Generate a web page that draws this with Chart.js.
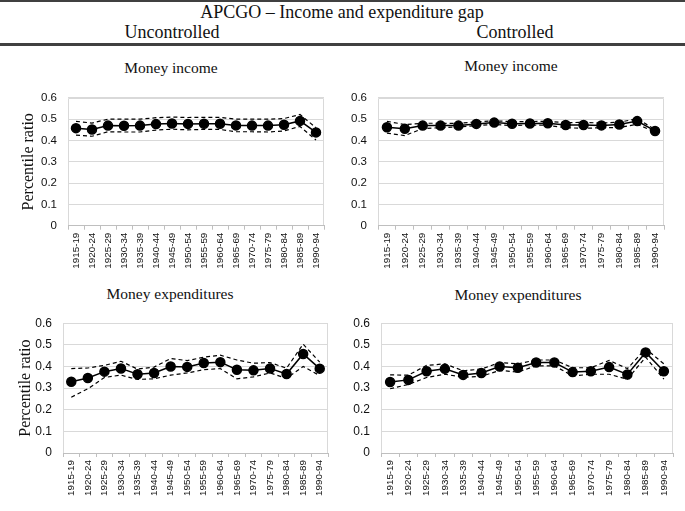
<!DOCTYPE html>
<html>
<head>
<meta charset="utf-8">
<script src="https://cdn.jsdelivr.net/npm/chart.js@4"></script>
<style>
  body { margin: 0; background: #fff; }
  #page { position: relative; width: 685px; height: 511px; overflow: hidden; background: #fff; }
  .txt { position: absolute; font-family: "Liberation Serif", "Times New Roman", serif; color: #111; white-space: nowrap; line-height: 20px; }
  .rule { position: absolute; left: 0; width: 685px; background: #404040; }
  canvas { position: absolute; }
</style>
</head>
<body>
<div id="page">
  <div class="rule" style="top:0; height:1.5px;"></div>
  <div class="txt" style="top:2px; left:0; width:685px; text-align:center; font-size:18px; transform:translateX(-0.5px)">APCGO – Income and expenditure gap</div>
  <div class="txt" style="top:22px; left:72px; width:200px; text-align:center; font-size:18px;">Uncontrolled</div>
  <div class="txt" style="top:22px; left:415px; width:200px; text-align:center; font-size:18px;">Controlled</div>
  <div class="rule" style="top:43px; height:2.5px;"></div>

  <div class="txt" style="top:58px; left:71px; width:200px; text-align:center; font-size:15.5px;">Money income</div>
  <div class="txt" style="top:56px; left:411px; width:200px; text-align:center; font-size:15.5px;">Money income</div>
  <div class="txt" style="top:284px; left:70px; width:200px; text-align:center; font-size:15.5px;">Money expenditures</div>
  <div class="txt" style="top:285px; left:418px; width:200px; text-align:center; font-size:15.5px;">Money expenditures</div>

  <canvas id="c1" width="345" height="195" style="left:0; top:80px;"></canvas>
  <canvas id="c2" width="340" height="195" style="left:345px; top:80px;"></canvas>
  <canvas id="c3" width="345" height="206" style="left:0; top:305px;"></canvas>
  <canvas id="c4" width="340" height="206" style="left:345px; top:305px;"></canvas>
</div>
<script>
const periods = ['1915-19', '1920-24', '1925-29', '1930-34', '1935-39', '1940-44', '1945-49', '1950-54',
                 '1955-59', '1960-64', '1965-69', '1970-74', '1975-79', '1980-84', '1985-89', '1990-94'];

// Money income, uncontrolled
const incUncMean  = [0.458, 0.452, 0.470, 0.469, 0.470, 0.477, 0.480, 0.478, 0.479, 0.479, 0.471, 0.470, 0.470, 0.474, 0.492, 0.438];
const incUncUpper = [0.490, 0.482, 0.500, 0.500, 0.500, 0.507, 0.510, 0.508, 0.509, 0.509, 0.500, 0.500, 0.500, 0.503, 0.522, 0.460];
const incUncLower = [0.425, 0.420, 0.441, 0.440, 0.440, 0.449, 0.453, 0.450, 0.452, 0.452, 0.441, 0.441, 0.440, 0.445, 0.466, 0.402];

// Money income, controlled
const incConMean  = [0.462, 0.455, 0.470, 0.470, 0.470, 0.478, 0.484, 0.479, 0.480, 0.481, 0.473, 0.473, 0.471, 0.475, 0.491, 0.445];
const incConUpper = [0.490, 0.475, 0.481, 0.481, 0.480, 0.488, 0.492, 0.489, 0.489, 0.490, 0.484, 0.485, 0.482, 0.486, 0.502, 0.452];
const incConLower = [0.435, 0.423, 0.456, 0.460, 0.464, 0.470, 0.476, 0.470, 0.473, 0.471, 0.460, 0.457, 0.460, 0.461, 0.476, 0.440];

// Money expenditures, uncontrolled
const expUncMean  = [0.329, 0.347, 0.376, 0.391, 0.364, 0.370, 0.400, 0.398, 0.416, 0.420, 0.385, 0.382, 0.391, 0.365, 0.458, 0.390];
const expUncUpper = [0.390, 0.393, 0.405, 0.424, 0.388, 0.397, 0.437, 0.427, 0.443, 0.452, 0.430, 0.415, 0.418, 0.392, 0.503, 0.420];
const expUncLower = [0.258, 0.297, 0.349, 0.360, 0.340, 0.343, 0.360, 0.370, 0.385, 0.390, 0.343, 0.352, 0.370, 0.345, 0.400, 0.358];

// Money expenditures, controlled
const expConMean  = [0.328, 0.338, 0.378, 0.389, 0.361, 0.370, 0.400, 0.394, 0.418, 0.418, 0.374, 0.378, 0.397, 0.363, 0.465, 0.378];
const expConUpper = [0.361, 0.360, 0.405, 0.412, 0.380, 0.388, 0.418, 0.412, 0.430, 0.430, 0.394, 0.394, 0.428, 0.390, 0.482, 0.412];
const expConLower = [0.297, 0.317, 0.349, 0.364, 0.350, 0.354, 0.382, 0.374, 0.403, 0.403, 0.356, 0.364, 0.364, 0.341, 0.443, 0.341];

const framePlugin = {
  id: 'frame',
  beforeDraw(chart) {
    const a = chart.chartArea, ctx = chart.ctx;
    ctx.save();
    ctx.strokeStyle = '#d9d9d9';
    ctx.lineWidth = 1;
    ctx.beginPath();
    ctx.moveTo(Math.round(a.left) + 0.5, a.bottom);
    ctx.lineTo(Math.round(a.left) + 0.5, Math.round(a.top) + 0.5);
    ctx.lineTo(Math.round(a.right) - 0.5, Math.round(a.top) + 0.5);
    ctx.lineTo(Math.round(a.right) - 0.5, a.bottom);
    ctx.stroke();
    ctx.restore();
  }
};

function panelChart(id, mean, upper, lower, lay) {
  const ctx = document.getElementById(id);
  return new Chart(ctx, {
    type: 'line',
    data: {
      labels: periods,
      datasets: [{
        data: upper,
        borderColor: '#000',
        borderWidth: 1.2,
        borderDash: [4, 3],
        pointRadius: 0,
        tension: 0
      }, {
        data: lower,
        borderColor: '#000',
        borderWidth: 1.2,
        borderDash: [4, 3],
        pointRadius: 0,
        tension: 0
      }, {
        data: mean,
        borderColor: '#000',
        borderWidth: 1.5,
        backgroundColor: '#000',
        pointBackgroundColor: '#000',
        pointBorderColor: '#000',
        pointRadius: 4.5,
        tension: 0
      }]
    },
    options: {
      responsive: false,
      animation: false,
      layout: {
        padding: { left: 0, right: lay.right, top: lay.top, bottom: 0 }
      },
      scales: {
        x: {
          offset: true,
          grid: {
            offset: true,
            drawOnChartArea: false,
            tickLength: 4,
            color: '#bfbfbf'
          },
          border: { color: '#bfbfbf', dash: [3, 2] },
          ticks: {
            minRotation: 90,
            maxRotation: 90,
            autoSkip: false,
            padding: 3,
            color: '#111',
            font: { family: '"Liberation Sans", Arial, sans-serif', size: 9.8 }
          },
          afterFit: (s) => { s.height = lay.xh; }
        },
        y: {
          min: 0,
          max: 0.6,
          grid: { color: '#d9d9d9', drawTicks: false },
          border: { display: false },
          ticks: {
            stepSize: 0.1,
            padding: 11,
            color: '#111',
            font: { family: '"Liberation Sans", Arial, sans-serif', size: lay.yfs },
            callback: (v) => (Math.round(v * 10) / 10).toString()
          },
          title: {
            display: lay.title,
            text: 'Percentile ratio',
            color: '#111',
            padding: { top: lay.tpad, bottom: 0 },
            font: { family: '"Liberation Serif", "Times New Roman", serif', size: 16 }
          },
          afterFit: (s) => { s.width = lay.yw; }
        }
      },
      plugins: {
        legend: { display: false },
        tooltip: { enabled: false }
      }
    },
    plugins: [framePlugin]
  });
}

panelChart('c1', incUncMean, incUncUpper, incUncLower, { right: 21, top: 14.7, xh: 49.3, yw: 68, yfs: 11.5, title: true, tpad: 19.4 });
panelChart('c2', incConMean, incConUpper, incConLower, { right: 21, top: 12.7, xh: 49.3, yw: 33, yfs: 11.5, title: false, tpad: 0 });
panelChart('c3', expUncMean, expUncUpper, expUncLower, { right: 17, top: 16.7, xh: 58, yw: 63, yfs: 12, title: true, tpad: 16.4 });
panelChart('c4', expConMean, expConUpper, expConLower, { right: 12, top: 17.7, xh: 58, yw: 36, yfs: 12, title: false, tpad: 0 });
</script>
</body>
</html>
